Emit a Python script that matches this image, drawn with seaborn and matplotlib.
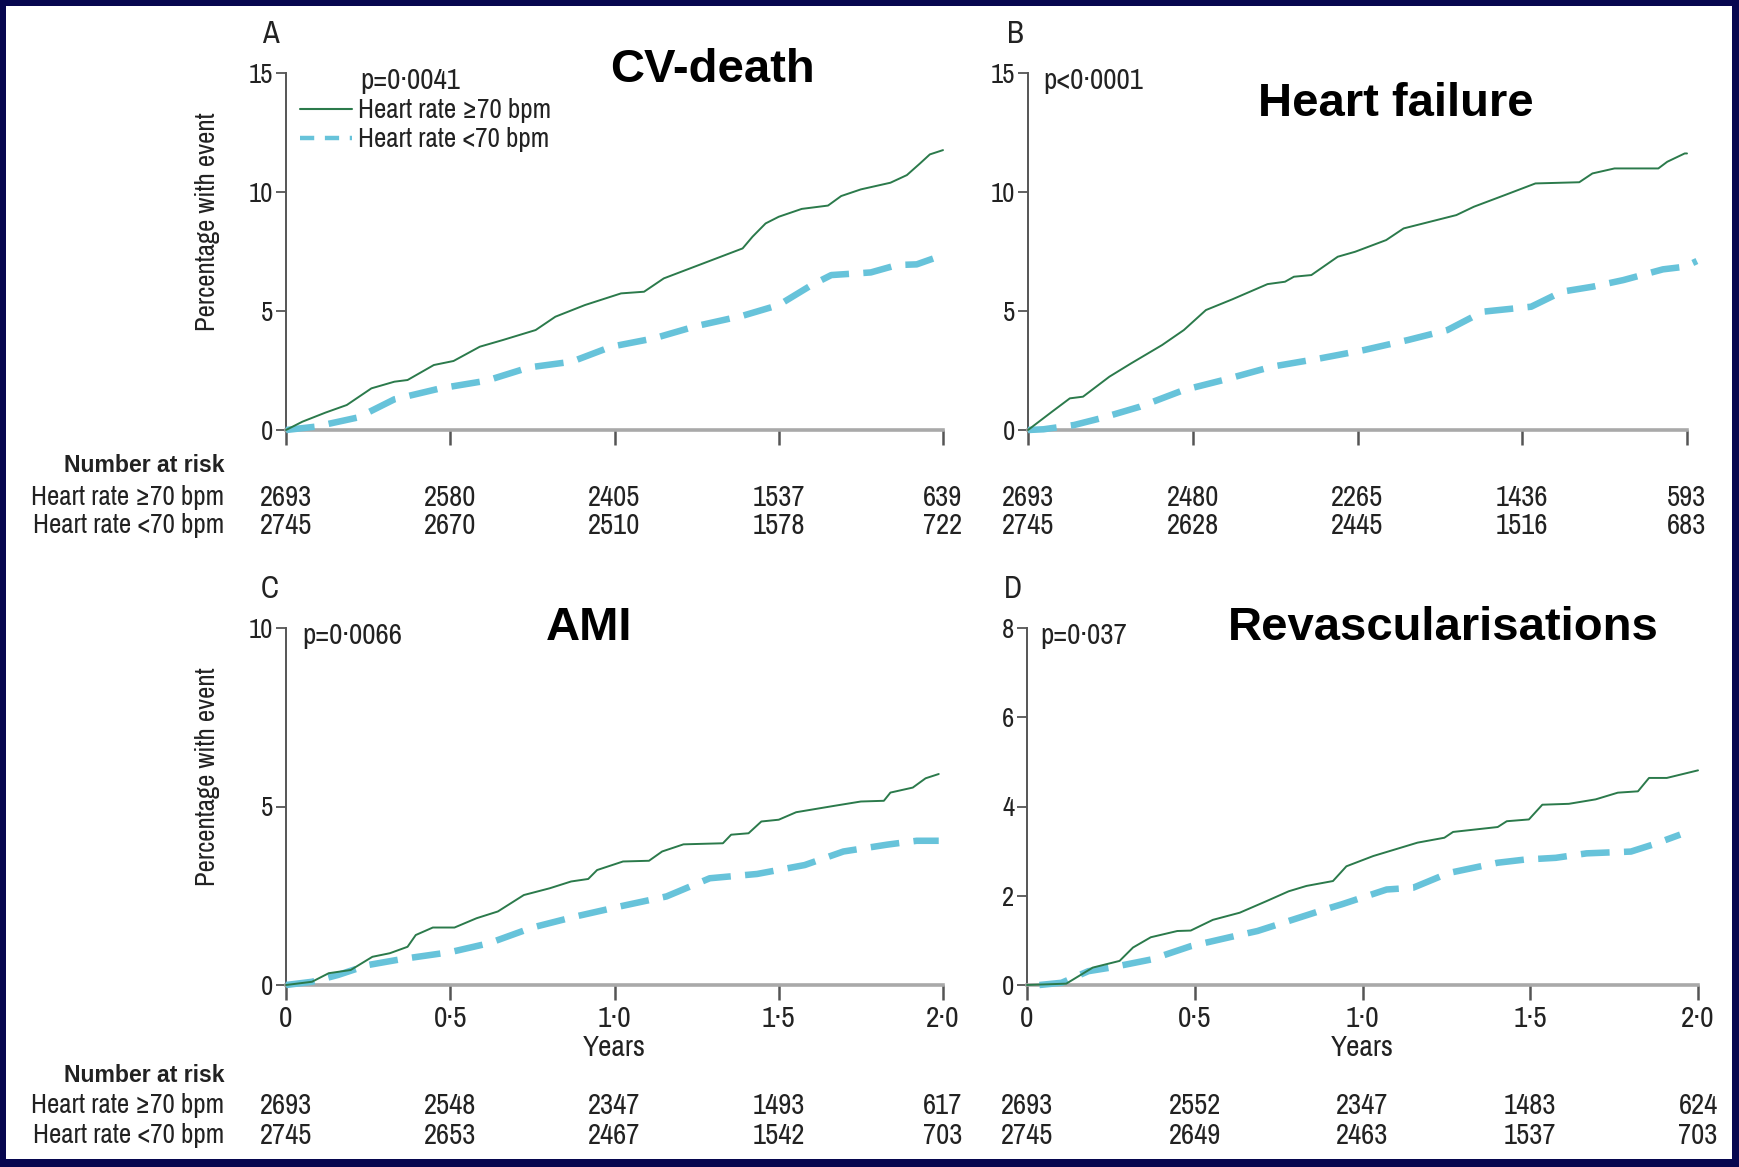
import matplotlib
matplotlib.use("Agg")
import matplotlib.pyplot as plt
import matplotlib.transforms as mtransforms
from matplotlib import font_manager
from matplotlib.font_manager import FontProperties
from matplotlib.textpath import TextPath
from matplotlib.lines import Line2D
from matplotlib.patches import Rectangle
import seaborn as sns

sns.set_theme(style="white")


def pick_text_family():
    """Prefer a narrow sans face for the small labels, else an Arial-metric one."""
    entries = font_manager.fontManager.ttflist
    for f in entries:
        if any(k in f.name for k in ("Narrow", "Condensed")):
            return f.name, "normal"
    for f in entries:
        if str(f.stretch) in ("condensed", "semi-condensed") and f.style == "normal":
            return f.name, str(f.stretch)
    return "Liberation Sans", "normal"


def has_bold(family):
    return any(f.name == family and f.weight in (600, 700, 800, "bold", "semibold")
               for f in font_manager.fontManager.ttflist)


TEXT_FAMILY, TEXT_STRETCH = pick_text_family()
FAMILY = [TEXT_FAMILY, "DejaVu Sans"]
BOLD_SANS = ["Liberation Sans", "DejaVu Sans"]
HEAD_FAMILY = FAMILY if has_bold(TEXT_FAMILY) else BOLD_SANS
plt.rcParams["font.family"] = FAMILY
plt.rcParams["font.stretch"] = TEXT_STRETCH

# ---------------- cumulative event curves (years, % with event) ----------------
cv_hi_t = [0, 0.05, 0.12, 0.185, 0.26, 0.33, 0.37, 0.45, 0.51, 0.59, 0.66, 0.76, 0.82, 0.91,
           1.02, 1.09, 1.15, 1.23, 1.31, 1.39, 1.42, 1.46, 1.50, 1.57, 1.65, 1.69, 1.75,
           1.84, 1.89, 1.93, 1.96, 2.0]
cv_hi_v = [0, 0.35, 0.73, 1.05, 1.75, 2.03, 2.1, 2.73, 2.9, 3.5, 3.78, 4.2, 4.76, 5.25,
           5.74, 5.81, 6.37, 6.79, 7.21, 7.63, 8.12, 8.68, 8.96, 9.29, 9.43, 9.83, 10.11,
           10.39, 10.71, 11.2, 11.58, 11.76]
cv_lo_t = [0, 0.09, 0.22, 0.33, 0.47, 0.61, 0.74, 0.87, 0.99, 1.12, 1.25, 1.39, 1.50,
           1.60, 1.66, 1.78, 1.86, 1.92, 2.0]
cv_lo_v = [0, 0.14, 0.53, 1.29, 1.75, 2.07, 2.63, 2.87, 3.5, 3.85, 4.37, 4.8, 5.25,
           6.09, 6.51, 6.62, 6.93, 6.96, 7.35]

hf_hi_t = [0, 0.073, 0.127, 0.167, 0.247, 0.313, 0.407, 0.473, 0.54, 0.62, 0.727, 0.78,
           0.807, 0.86, 0.94, 0.993, 1.087, 1.14, 1.22, 1.30, 1.353, 1.447, 1.54, 1.673,
           1.713, 1.78, 1.913, 1.94, 1.993, 2.0]
hf_hi_v = [0, 0.77, 1.33, 1.4, 2.24, 2.8, 3.57, 4.2, 5.04, 5.49, 6.13, 6.23, 6.44, 6.51,
           7.28, 7.49, 7.98, 8.47, 8.75, 9.03, 9.38, 9.87, 10.36, 10.41, 10.78, 10.99,
           10.99, 11.27, 11.62, 11.62]
hf_lo_t = [0, 0.047, 0.14, 0.22, 0.34, 0.473, 0.593, 0.74, 0.887, 1.02, 1.153, 1.273,
           1.38, 1.527, 1.62, 1.713, 1.807, 1.927, 1.993, 2.03]
hf_lo_v = [0, 0.03, 0.21, 0.49, 0.98, 1.68, 2.1, 2.66, 3.01, 3.36, 3.78, 4.2, 4.97,
           5.18, 5.81, 6.02, 6.3, 6.75, 6.86, 7.1]

ami_hi_t = [0, 0.079, 0.13, 0.197, 0.263, 0.316, 0.37, 0.395, 0.447, 0.513, 0.58, 0.645,
            0.724, 0.803, 0.868, 0.92, 0.947, 1.026, 1.105, 1.145, 1.21, 1.33, 1.355,
            1.408, 1.447, 1.5, 1.553, 1.67, 1.75, 1.82, 1.84, 1.908, 1.947, 1.987]
ami_hi_v = [0, 0.09, 0.33, 0.42, 0.79, 0.89, 1.07, 1.4, 1.61, 1.61, 1.87, 2.06, 2.52,
            2.71, 2.9, 2.97, 3.22, 3.46, 3.48, 3.74, 3.94, 3.97, 4.21, 4.25, 4.58, 4.63,
            4.84, 5.02, 5.14, 5.16, 5.39, 5.53, 5.79, 5.91]
ami_lo_t = [0, 0.079, 0.158, 0.25, 0.355, 0.5, 0.618, 0.75, 0.882, 1.026, 1.158, 1.29,
            1.434, 1.579, 1.697, 1.829, 1.92, 1.987]
ami_lo_v = [0, 0.09, 0.28, 0.56, 0.73, 0.92, 1.17, 1.61, 1.92, 2.22, 2.48, 2.99, 3.11,
            3.36, 3.74, 3.93, 4.04, 4.04]

rev_hi_t = [0, 0.117, 0.196, 0.276, 0.316, 0.369, 0.448, 0.488, 0.554, 0.634, 0.714,
            0.78, 0.833, 0.912, 0.952, 1.032, 1.164, 1.244, 1.27, 1.403, 1.43, 1.496,
            1.536, 1.615, 1.695, 1.761, 1.821, 1.854, 1.907, 2.0]
rev_hi_v = [0, 0.03, 0.39, 0.54, 0.84, 1.07, 1.21, 1.22, 1.46, 1.62, 1.88, 2.1, 2.22,
            2.33, 2.66, 2.89, 3.19, 3.3, 3.43, 3.54, 3.67, 3.71, 4.04, 4.06, 4.16, 4.31,
            4.34, 4.64, 4.64, 4.81]
rev_lo_t = [0.037, 0.103, 0.183, 0.249, 0.369, 0.488, 0.621, 0.687, 0.886, 0.939, 1.072,
            1.151, 1.257, 1.403, 1.483, 1.576, 1.668, 1.8, 1.867, 1.947]
rev_lo_v = [0, 0.05, 0.31, 0.39, 0.57, 0.87, 1.1, 1.21, 1.69, 1.81, 2.14, 2.18, 2.51,
            2.74, 2.81, 2.85, 2.95, 2.99, 3.15, 3.37]

# ---------------- number at risk ----------------
risk_years = [0, 0.5, 1.0, 1.5, 2.0]
cv_risk_hi = [2693, 2580, 2405, 1537, 639]
cv_risk_lo = [2745, 2670, 2510, 1578, 722]
hf_risk_hi = [2693, 2480, 2265, 1436, 593]
hf_risk_lo = [2745, 2628, 2445, 1516, 683]
ami_risk_hi = [2693, 2548, 2347, 1493, 617]
ami_risk_lo = [2745, 2653, 2467, 1542, 703]
rev_risk_hi = [2693, 2552, 2347, 1483, 624]
rev_risk_lo = [2745, 2649, 2463, 1537, 703]

titles = ["CV-death", "Heart failure", "AMI", "Revascularisations"]
letters = ["A", "B", "C", "D"]
p_values = ["p=0·0041", "p<0·0001", "p=0·0066", "p=0·037"]
y_max = [15, 15, 10, 8]
y_ticks = [[0, 5, 10, 15], [0, 5, 10, 15], [0, 5, 10], [0, 2, 4, 6, 8]]
x_ticks = [0, 0.5, 1.0, 1.5, 2.0]
x_tick_labels = ["0", "0·5", "1·0", "1·5", "2·0"]
group_hi = "Heart rate ≥70 bpm"
group_lo = "Heart rate <70 bpm"

GREEN = "#2b7a4b"
CYAN = "#67c3da"
INK = "#222222"
AXIS_DARK = "#555555"
NAVY = "#07074f"

W, H = 1739, 1167
DPI = 100


def fit_size(sample, width_px, weight="normal", family=None, stretch=None):
    """Font size (pt) at which `sample` spans `width_px` pixels."""
    prop = FontProperties(family=family or FAMILY, weight=weight,
                          stretch=stretch or TEXT_STRETCH)
    w = TextPath((0, 0), sample, size=100, prop=prop).get_extents().width
    return 100 * width_px / w * 72 / DPI


FS_GROUP = fit_size(group_hi, 190)
HEAD_STRETCH = TEXT_STRETCH if HEAD_FAMILY is FAMILY else "normal"
FS_HEAD = fit_size("Number at risk", 160 if HEAD_FAMILY is BOLD_SANS else 153,
                   weight="bold", family=HEAD_FAMILY, stretch=HEAD_STRETCH)
FS_NUM = fit_size("2693", 50)
FS_P = fit_size("p=0·0066", 97)
FS_YTICK = fit_size("10", 22)
FS_XTICK = fit_size("1·0", 31)
FS_YEARS = FS_XTICK
FS_YLABEL = fit_size("Percentage with event", 216)
FS_LETTER = 22

fig = plt.figure(figsize=(W / DPI, H / DPI), dpi=DPI, facecolor=NAVY)
fig.patches.append(Rectangle((6 / W, 8 / H), (W - 13) / W, (H - 14) / H,
                             transform=fig.transFigure, facecolor="white",
                             edgecolor="none", zorder=-10))


def T(x, y, s, **kw):
    kw.setdefault("color", INK)
    return fig.text(x / W, 1 - y / H, s, **kw)


def add_panel(left, right, top, bottom):
    return fig.add_axes([left / W, 1 - bottom / H, (right - left) / W, (bottom - top) / H])


# pixel boxes of the four plotting areas
boxes = [(286, 943, 73, 430), (1028, 1687, 73, 430),
         (286, 943, 628, 985), (1027, 1698, 628, 985)]
curves = [(cv_hi_t, cv_hi_v, cv_lo_t, cv_lo_v),
          (hf_hi_t, hf_hi_v, hf_lo_t, hf_lo_v),
          (ami_hi_t, ami_hi_v, ami_lo_t, ami_lo_v),
          (rev_hi_t, rev_hi_v, rev_lo_t, rev_lo_v)]
risks = [(cv_risk_hi, cv_risk_lo), (hf_risk_hi, hf_risk_lo),
         (ami_risk_hi, ami_risk_lo), (rev_risk_hi, rev_risk_lo)]
title_pos = [(712, 70), (1396, 104), (589, 628), (1443, 628)]
letter_pos = [(270, 34), (1015, 34), (270, 589), (1013, 589)]
p_pos = [(360, 80), (1043, 80), (302, 636), (1040, 636)]

axes = []
for i, (l, r, t, b) in enumerate(boxes):
    ax = add_panel(l, r, t, b)
    axes.append(ax)
    hi_t, hi_v, lo_t, lo_v = curves[i]
    sns.lineplot(x=lo_t, y=lo_v, ax=ax, color=CYAN, linewidth=4.7,
                 linestyle=(0, (4.4, 2.2)), estimator=None, sort=False,
                 clip_on=False, zorder=3)
    sns.lineplot(x=hi_t, y=hi_v, ax=ax, color=GREEN, linewidth=1.4,
                 estimator=None, sort=False, clip_on=False, zorder=4)
    ax.set_xlim(0, 2.0)
    ax.set_ylim(0, y_max[i])
    ax.set_xticks(x_ticks)
    ax.set_yticks(y_ticks[i])
    ax.set_xlabel("")
    ax.set_ylabel("")
    ax.set_facecolor("none")
    for s in ("top", "right"):
        ax.spines[s].set_visible(False)
    ax.spines["left"].set_color(AXIS_DARK)
    ax.spines["left"].set_linewidth(1.4)
    ax.spines["bottom"].set_color("#a9a9a9")
    ax.spines["bottom"].set_linewidth(2.6)
    ax.tick_params(axis="y", left=True, direction="out", length=7, width=1.3,
                   color=AXIS_DARK, labelsize=FS_YTICK, labelcolor=INK, pad=2)
    ax.tick_params(axis="x", bottom=True, direction="out", length=11, width=1.8,
                   color=AXIS_DARK, labelsize=FS_XTICK, labelcolor=INK, pad=3.5,
                   labelbottom=(i >= 2))
    ax.set_xticklabels(x_tick_labels)

    # headings and annotations
    tx, ty = title_pos[i]
    T(tx, ty, titles[i], ha="center", va="center", fontsize=34,
      fontweight="bold", family=BOLD_SANS, color="black")
    lx, ly = letter_pos[i]
    T(lx, ly, letters[i], ha="center", va="center", fontsize=FS_LETTER)
    px, py = p_pos[i]
    T(px, py, p_values[i], ha="left", va="center", fontsize=FS_P)

    # number-at-risk table
    trans = mtransforms.blended_transform_factory(ax.transData, fig.transFigure)
    if i < 2:
        rows_y = (497, 526)
        head_y = 466
    else:
        rows_y = (1106, 1136)
        head_y = 1076
    hi_r, lo_r = risks[i]
    for yy, vals in zip(rows_y, (hi_r, lo_r)):
        for xv, n in zip(risk_years, vals):
            ax.text(xv, 1 - yy / H, str(n), transform=trans, ha="center",
                    va="center", fontsize=FS_NUM, color=INK, clip_on=False)
    if i % 2 == 0:
        T(224, head_y, "Number at risk", ha="right", va="center", fontsize=FS_HEAD,
          fontweight="bold", family=HEAD_FAMILY, fontstretch=HEAD_STRETCH)
        T(224, rows_y[0], group_hi, ha="right", va="center", fontsize=FS_GROUP)
        T(224, rows_y[1], group_lo, ha="right", va="center", fontsize=FS_GROUP)
        T(208, (t + b) / 2 - 30, "Percentage with event", rotation=90,
          ha="center", va="center", fontsize=FS_YLABEL)
    if i >= 2:
        T((l + r) / 2, 1047, "Years", ha="center", va="center", fontsize=FS_YEARS)

# legend for the two heart-rate groups
em = FS_GROUP * DPI / 72
handles = [Line2D([], [], color=GREEN, linewidth=1.5),
           Line2D([], [], color=CYAN, linewidth=3.2, linestyle=(0, (3.2, 2.4)))]
axes[0].legend(handles, [group_hi, group_lo], loc="upper left",
               bbox_to_anchor=(300 / W, 1 - 98 / H),
               bbox_transform=fig.transFigure,
               frameon=False, fontsize=FS_GROUP, handlelength=52 / em,
               handletextpad=6 / em, labelspacing=4.5 / em,
               borderpad=0, borderaxespad=0, labelcolor=INK)

fig.savefig("out.png", dpi=DPI, facecolor=NAVY)
